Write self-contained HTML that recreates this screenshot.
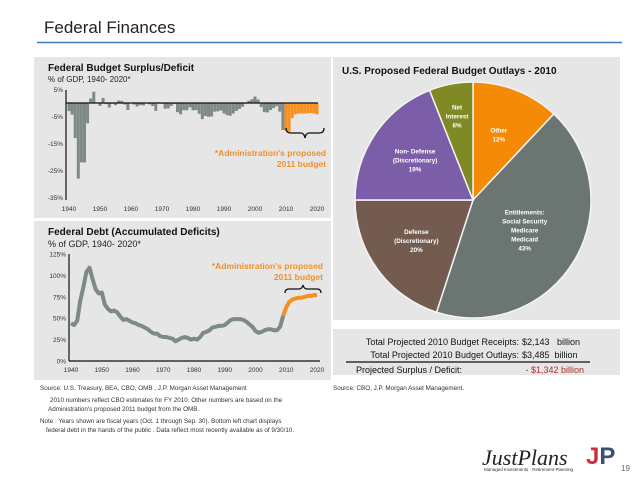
<!DOCTYPE html>
<html><head><meta charset="utf-8"><style>
body{margin:0;background:#fff;}
svg{display:block;font-family:"Liberation Sans",Arial,sans-serif;}
</style></head><body>
<svg id="s" width="638" height="479" viewBox="0 0 638 479">
<text x="44" y="33" font-size="17" fill="#222">Federal Finances</text>
<line x1="37" y1="42.5" x2="622" y2="42.5" stroke="#3d7ab8" stroke-width="1.5"/>
<rect x="34" y="57" width="297" height="161" fill="#e6e6e6"/>
<rect x="34" y="221" width="297" height="159" fill="#e6e6e6"/>
<rect x="333" y="57" width="287" height="263" fill="#e6e6e6"/>
<rect x="333" y="329" width="287" height="46" fill="#e6e6e6"/>
<text x="48" y="71" font-size="10" font-weight="bold" fill="#111">Federal Budget Surplus/Deficit</text>
<text x="48" y="82" font-size="8" fill="#222">% of GDP, 1940- 2020*</text>
<text x="48" y="235" font-size="10" font-weight="bold" fill="#111">Federal Debt (Accumulated Deficits)</text>
<text x="48" y="247" font-size="9" fill="#222">% of GDP, 1940- 2020*</text>
<text x="342" y="74" font-size="10" font-weight="bold" fill="#111">U.S. Proposed Federal Budget Outlays - 2010</text>
<g id="bars"></g>
<g id="debt"></g>
<g id="pie"></g>
<text x="326" y="156" font-size="8.5" font-weight="bold" fill="#f0902a" text-anchor="end">*Administration's proposed</text>
<text x="326" y="167" font-size="8.5" font-weight="bold" fill="#f0902a" text-anchor="end">2011 budget</text>
<path d="M286,128 q0,5 5,5 h10 q3,0 4,5 q1,-5 4,-5 h10 q5,0 5,-5" fill="none" stroke="#111" stroke-width="1.3"/>
<text x="323" y="269" font-size="8.5" font-weight="bold" fill="#f0902a" text-anchor="end">*Administration's proposed</text>
<text x="323" y="280" font-size="8.5" font-weight="bold" fill="#f0902a" text-anchor="end">2011 budget</text>
<path d="M285,293 q0,-4 4,-4 h10 q3,0 4,-4 q1,4 4,4 h10 q4,0 4,4" fill="none" stroke="#111" stroke-width="1.3"/>
<g font-size="9" fill="#111">
<text x="519" y="345" text-anchor="end">Total Projected 2010 Budget Receipts:</text>
<text x="522" y="345">$2,143 &#160; billion</text>
<text x="519" y="358" text-anchor="end">Total Projected 2010 Budget Outlays:</text>
<text x="522" y="358">$3,485 &#160;billion</text>
<line x1="346" y1="362" x2="590" y2="362" stroke="#111" stroke-width="1.2"/>
<text x="356" y="373">Projected Surplus / Deficit:</text>
<text x="584" y="373" text-anchor="end" fill="#b03030">- $1,342 billion</text>
</g>
<g font-size="6.3" fill="#333">
<text x="40" y="390">Source:  U.S. Treasury, BEA,  CBO, OMB  ,  J.P. Morgan Asset Management</text>
<text x="333" y="390">Source: CBO,   J.P. Morgan Asset Management.</text>
<text x="50" y="402">2010 numbers reflect CBO estimates for FY 2010. Other numbers are based on the</text>
<text x="48" y="411">Administration's proposed 2011 budget from the OMB.</text>
<text x="40" y="423">Note        : Years shown are fiscal years (Oct. 1 through Sep. 30). Bottom left chart displays</text>
<text x="46" y="432">federal debt in the hands of the public   . Data reflect most recently available as of 9/30/10.</text>
</g>
<text x="482" y="465" font-size="22" font-style="italic" font-family="Liberation Serif,serif" fill="#222">JustPlans</text>
<text x="586" y="464" font-size="24" font-weight="bold" fill="#c8323a">J<tspan fill="#3a4f7a">P</tspan></text>
<text x="484" y="471" font-size="4.5" fill="#333">Managed Investments · Retirement Planning</text>
<text x="621" y="471" font-size="8" fill="#666">19</text>
</svg>
<script>
const NS="http://www.w3.org/2000/svg";
const deficitYears=[];for(let y=1940;y<=2020;y++)deficitYears.push(y);
const deficitValues=[-3,-4.3,-13,-28,-22,-22,-7.5,1.7,4.2,0.2,-1.1,1.9,-0.4,-1.7,-0.3,-0.8,0.9,0.8,-0.6,-2.6,0.1,-0.6,-1.3,-0.8,-0.9,-0.2,-0.5,-1.1,-2.9,0.3,-0.3,-2.1,-2,-1.1,-0.4,-3.4,-4.2,-2.7,-2.7,-1.6,-2.7,-2.6,-4,-6,-4.8,-5.1,-5,-3.2,-3.1,-2.8,-3.9,-4.5,-4.7,-3.9,-2.9,-2.2,-1.4,-0.3,0.8,1.4,2.4,1.3,-1.5,-3.4,-3.5,-2.6,-1.9,-1.2,-3.2,-10,-10.3,-10.6,-5.6,-4.2,-3.9,-3.9,-3.9,-3.8,-3.7,-3.9,-4.2];
const deficitTicks=[5,-5,-15,-25,-35];
const yearTicks=[1940,1950,1960,1970,1980,1990,2000,2010,2020];
const debtValues=[44,42,47,70,86,104,109,96,84,79,80,66,61,58,59,57,52,48,49,47,45,44,42,41,39,37,34,32,32,29,28,28,27,26,23,25,27,28,27,25,26,25,28,33,34,36,39,40,41,41,42,45,48,49,49,49,48,46,43,40,35,33,34,36,37,37,36,36,40,53,63,69,72,73,74,74,75,76,76,77,77];
const debtTicks=[0,25,50,75,100,125];
const pieLabels=[["Other","12%"],["Entitlements:","Social Security","Medicare","Medicaid","43%"],["Defense","(Discretionary)","20%"],["Non- Defense","(Discretionary)","19%"],["Net","Interest","6%"]];
const pieValues=[12,43,20,19,6];
const pieColors=["#f58a07","#6b7571","#735b4f","#7b5ea7","#7f8a25"];
const S=document.getElementById('s');
function mk(t,a,p){const e=document.createElementNS(NS,t);for(const k in a)e.setAttribute(k,a[k]);(p||S).appendChild(e);return e;}
const bx=y=>69+(y-1940)*(317-69)/80, by=v=>103-v*2.7;
const gb=document.getElementById('bars');
deficitYears.forEach((yr,i)=>{const v=deficitValues[i];const r=mk('rect',{x:bx(yr)-1.5,y:Math.min(by(v),by(0)),width:3,height:Math.abs(by(v)-by(0)),fill:yr>=2010?'#f7901e':'#7d8a85'},gb);

});
let e=mk('line',{x1:66,y1:by(0),x2:318,y2:by(0),stroke:'#111','stroke-width':1.2});


e=mk('line',{x1:66,y1:90,x2:66,y2:200,stroke:'#111','stroke-width':1.2});


deficitTicks.forEach(t=>{const l=mk('text',{x:63,y:by(t)+2.5,'font-size':6.5,'text-anchor':'end',fill:'#333'});l.textContent=t+'%';

});
yearTicks.forEach(t=>{const l=mk('text',{x:bx(t),y:211,'font-size':6.5,'text-anchor':'middle',fill:'#333'});l.textContent=t;

});
const dx=y=>71+(y-1940)*(317-71)/80, dy=v=>361-v*0.856;
const gd=document.getElementById('debt');
let p1='',p2='';
deficitYears.forEach((yr,i)=>{const pt=dx(yr).toFixed(1)+','+dy(debtValues[i]).toFixed(1);if(yr<=2009)p1+=(p1?' L':'M')+pt;if(yr>=2009)p2+=(p2?' L':'M')+pt;});
e=mk('path',{d:p1,fill:'none',stroke:'#7d8a85','stroke-width':4,'stroke-linejoin':'round'},gd);


e=mk('path',{d:p2,fill:'none',stroke:'#f7901e','stroke-width':4,'stroke-linejoin':'round'},gd);


e=mk('line',{x1:69,y1:254,x2:69,y2:361,stroke:'#111','stroke-width':1.2});


e=mk('line',{x1:69,y1:361,x2:320,y2:361,stroke:'#111','stroke-width':1.2});


debtTicks.forEach(t=>{const l=mk('text',{x:66,y:dy(t)+2.5,'font-size':6.5,'text-anchor':'end',fill:'#333'});l.textContent=t+'%';

});
yearTicks.forEach(t=>{const l=mk('text',{x:dx(t),y:372,'font-size':6.5,'text-anchor':'middle',fill:'#333'});l.textContent=t;

});
const cx=473,cy=200,R=118;const gp=document.getElementById('pie');
const tot=pieValues.reduce((a,b)=>a+b,0);let a0=0;
const pt=(a,r)=>[cx+r*Math.sin(a),cy-r*Math.cos(a)];
pieValues.forEach((v,i)=>{const a1=a0+v/tot*2*Math.PI;const[p,q]=pt(a0,R),[u,w]=pt(a1,R);
const s=mk('path',{d:`M${cx},${cy} L${p},${q} A${R},${R} 0 ${a1-a0>Math.PI?1:0} 1 ${u},${w} Z`,fill:pieColors[i],stroke:'#f4f4f4','stroke-width':1.5},gp);


const am=(a0+a1)/2,rr=i==4?85:(i==1?60:70);const[lx,ly]=pt(am,rr);const L=pieLabels[i];
L.forEach((t,j)=>{const tx=mk('text',{x:lx,y:ly+(j-(L.length-1)/2)*9+2,'font-size':6.3,'text-anchor':'middle',fill:'#fff','font-weight':'bold'},gp);tx.textContent=t;

});
a0=a1;});
</script>
</body></html>
